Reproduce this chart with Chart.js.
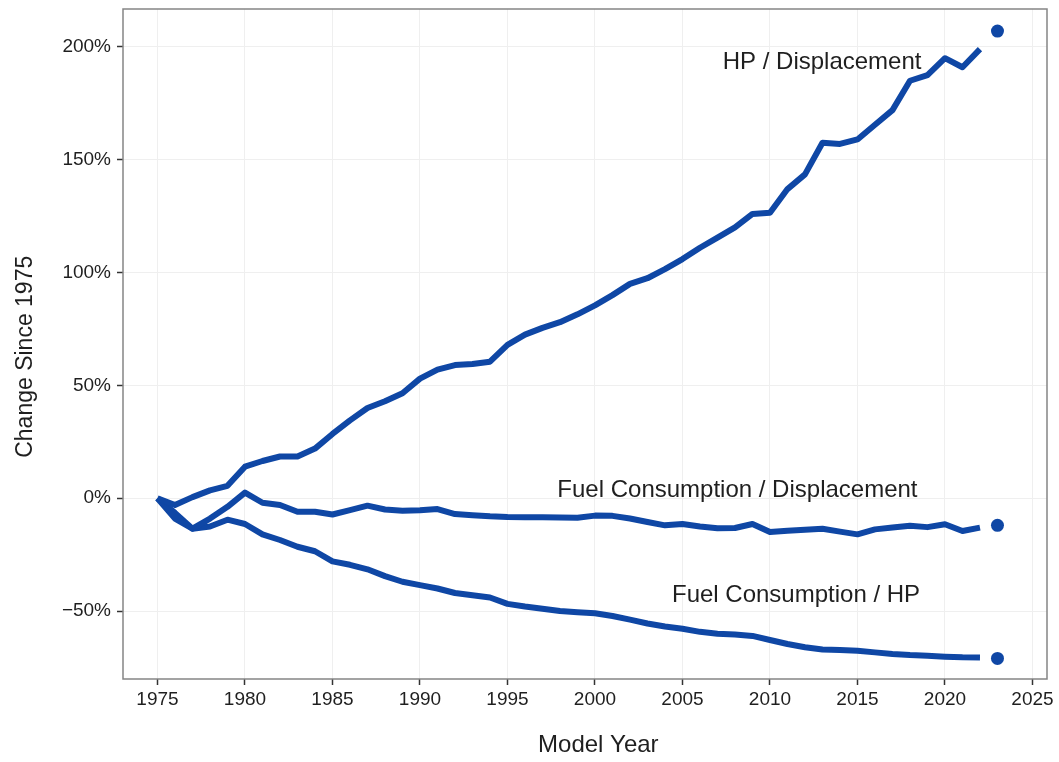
<!DOCTYPE html>
<html>
<head>
<meta charset="utf-8">
<title>Change Since 1975</title>
<script src="https://cdn.jsdelivr.net/npm/chart.js@4.4.1/dist/chart.umd.min.js"></script>
<style>
  html, body { margin: 0; padding: 0; background: #ffffff; }
  #wrap { width: 1059px; height: 762px; position: relative; }
</style>
</head>
<body>
<div id="wrap"><canvas id="chart"></canvas></div>
<script>
// model years shown as lines
const years = [
    1975, 1976, 1977, 1978, 1979, 1980, 1981, 1982, 1983, 1984,
    1985, 1986, 1987, 1988, 1989, 1990, 1991, 1992, 1993, 1994,
    1995, 1996, 1997, 1998, 1999, 2000, 2001, 2002, 2003, 2004,
    2005, 2006, 2007, 2008, 2009, 2010, 2011, 2012, 2013, 2014,
    2015, 2016, 2017, 2018, 2019, 2020, 2021, 2022
];

// percent change since 1975
const hpPerDisplacement = [
    0, -3, 0.5, 3.5, 5.5, 14, 16.5, 18.5, 18.5, 22,
    28.5, 34.5, 40, 43, 46.5, 53, 57, 59, 59.5, 60.5,
    68, 72.5, 75.5, 78, 81.5, 85.5, 90, 95, 97.5, 101.5,
    106, 111, 115.5, 120, 126, 126.5, 137, 143.5, 157.5, 157,
    159, 165.5, 172, 185, 187.5, 195, 191, 199
];
const fuelPerDisplacement = [
    0, -9, -13.5, -9, -3.8, 2.5, -2, -3, -6, -6,
    -7.2, -5.3, -3.3, -5, -5.5, -5.3, -4.8, -7, -7.5, -8,
    -8.3, -8.4, -8.4, -8.5, -8.6, -7.7, -7.8, -9, -10.5, -12,
    -11.4, -12.5, -13.3, -13.2, -11.4, -15, -14.4, -14, -13.5, -14.8,
    -16, -13.8, -13, -12.2, -12.8, -11.5, -14.5, -13
];
const fuelPerHp = [
    0, -6.5, -13.5, -12.5, -9.5, -11.4, -16, -18.5, -21.5, -23.5,
    -28, -29.5, -31.5, -34.5, -37, -38.5, -40, -42, -43, -44,
    -46.8, -48, -49, -50, -50.5, -51, -52.2, -53.8, -55.5, -56.8,
    -57.8, -59.2, -60, -60.4, -61, -62.8, -64.6, -66, -67, -67.3,
    -67.6, -68.3, -69, -69.5, -69.8, -70.2, -70.5, -70.6
];

// preliminary 2023 values (dots)
const latestYear = [2023];
const latestHpPerDisplacement = [207];
const latestFuelPerDisplacement = [-12];
const latestFuelPerHp = [-71];

const xTicks = [1975, 1980, 1985, 1990, 1995, 2000, 2005, 2010, 2015, 2020, 2025];
const yTicks = [-50, 0, 50, 100, 150, 200];

const lineLabels = [
    { text: 'HP / Displacement', x: 2007.3, y: 193.3 },
    { text: 'Fuel Consumption / Displacement', x: 1997.85, y: 3.5 },
    { text: 'Fuel Consumption / HP', x: 2004.4, y: -43 }
];

const lineBlue = '#0f47a5';
const textColor = '#1f1f1f';
const fontFamily = "'Liberation Sans', Arial, Helvetica, sans-serif";

function toPoints(xs, values) {
    return xs.map((x, i) => ({ x: x, y: values[i] }));
}

function lineSet(values) {
    return {
        data: toPoints(years, values),
        borderColor: lineBlue,
        borderWidth: 6,
        borderJoinStyle: 'round',
        borderCapStyle: 'butt',
        pointRadius: 0,
        fill: false,
        tension: 0
    };
}

function dotSet(values) {
    return {
        data: toPoints(latestYear, values),
        showLine: false,
        pointRadius: 6.5,
        pointBackgroundColor: lineBlue,
        pointBorderColor: lineBlue,
        pointBorderWidth: 0
    };
}

const panelBorder = {
    id: 'panelBorder',
    afterDraw(chart) {
        const { ctx, chartArea } = chart;
        ctx.save();
        ctx.strokeStyle = '#858585';
        ctx.lineWidth = 1.5;
        ctx.strokeRect(chartArea.left, chartArea.top,
            chartArea.right - chartArea.left, chartArea.bottom - chartArea.top);
        ctx.restore();
    }
};

const seriesLabels = {
    id: 'seriesLabels',
    afterDatasetsDraw(chart) {
        const { ctx } = chart;
        const xScale = chart.scales.x;
        const yScale = chart.scales.y;
        ctx.save();
        ctx.fillStyle = textColor;
        ctx.font = '24px ' + fontFamily;
        ctx.textAlign = 'left';
        ctx.textBaseline = 'middle';
        lineLabels.forEach(label => {
            ctx.fillText(label.text, xScale.getPixelForValue(label.x), yScale.getPixelForValue(label.y));
        });
        ctx.restore();
    }
};

const ctx = document.getElementById('chart').getContext('2d');
const chart = new Chart(ctx, {
    type: 'line',
    data: {
        datasets: [
            lineSet(hpPerDisplacement),
            lineSet(fuelPerDisplacement),
            lineSet(fuelPerHp),
            dotSet(latestHpPerDisplacement),
            dotSet(latestFuelPerDisplacement),
            dotSet(latestFuelPerHp)
        ]
    },
    options: {
        responsive: true,
        maintainAspectRatio: false,
        animation: false,
        layout: {
            padding: { top: 9, right: 12, left: 0, bottom: 0 }
        },
        scales: {
            x: {
                type: 'linear',
                min: 1973.03,
                max: 2025.83,
                afterBuildTicks: scale => {
                    scale.ticks = xTicks.map(v => ({ value: v }));
                },
                afterFit: scale => {
                    scale.height = 83;
                    scale.paddingLeft = 0;
                    scale.paddingRight = 0;
                },
                ticks: {
                    color: textColor,
                    font: { family: fontFamily, size: 19 },
                    padding: 3,
                    maxRotation: 0,
                    autoSkip: false,
                    callback: value => String(value)
                },
                grid: {
                    color: '#efefef',
                    lineWidth: 1,
                    drawTicks: true,
                    tickLength: 6,
                    tickColor: '#333333',
                    tickWidth: 1.5
                },
                border: { display: false },
                title: {
                    display: true,
                    text: '    Model Year',
                    color: textColor,
                    font: { family: fontFamily, size: 24 },
                    padding: { top: 0, bottom: 2 }
                }
            },
            y: {
                min: -80.1,
                max: 216.8,
                afterBuildTicks: scale => {
                    scale.ticks = yTicks.map(v => ({ value: v }));
                },
                afterFit: scale => {
                    scale.width = 123;
                    scale.paddingTop = 0;
                    scale.paddingBottom = 0;
                },
                ticks: {
                    color: textColor,
                    font: { family: fontFamily, size: 19 },
                    padding: 6,
                    callback: value => (value < 0 ? '\u2212' + Math.abs(value) : value) + '%'
                },
                grid: {
                    color: '#efefef',
                    lineWidth: 1,
                    drawTicks: true,
                    tickLength: 6,
                    tickColor: '#333333',
                    tickWidth: 1.5
                },
                border: { display: false },
                title: {
                    display: true,
                    text: 'Change Since 1975    ',
                    color: textColor,
                    font: { family: fontFamily, size: 23 },
                    padding: { top: 12, bottom: 0 }
                }
            }
        },
        plugins: {
            legend: { display: false },
            tooltip: { enabled: false }
        }
    },
    plugins: [panelBorder, seriesLabels]
});
</script>
</body>
</html>
